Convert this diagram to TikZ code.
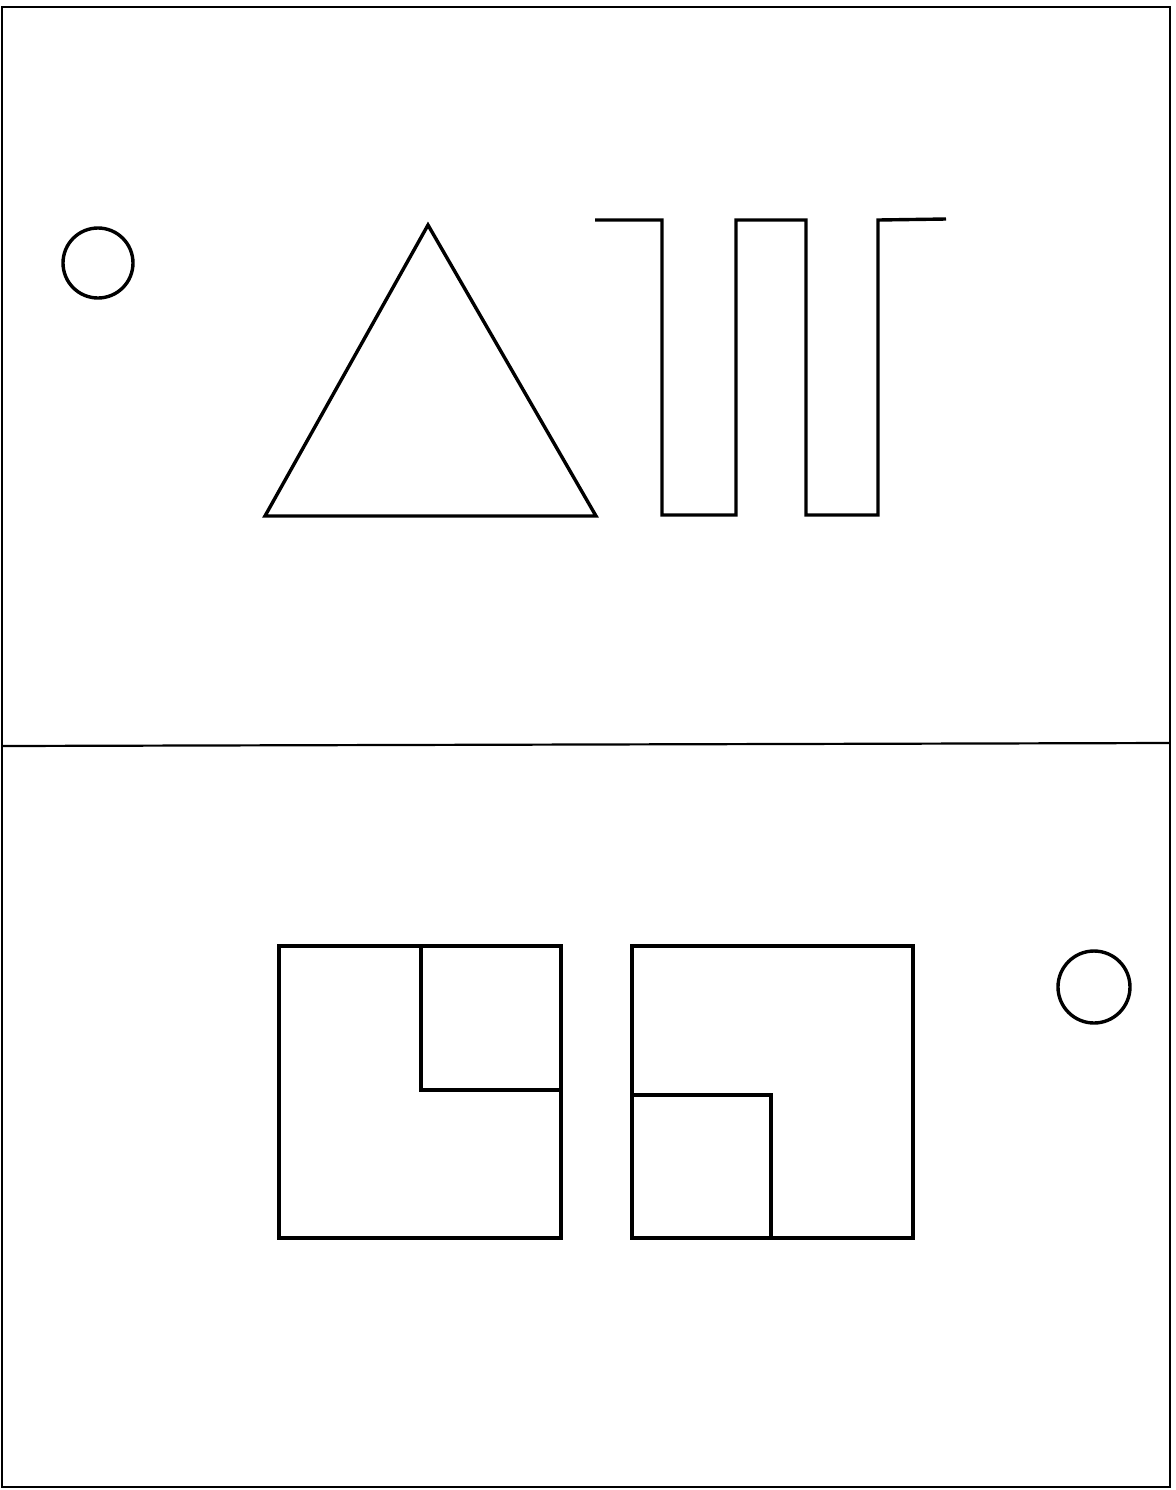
\documentclass[tikz,border=0pt]{standalone}
\begin{document}
\begin{tikzpicture}[x=0.5pt,y=-0.5pt,line join=miter]
\tikzset{stroke/.style={draw=black,line width=1.7pt},framestroke/.style={draw=black,line width=1.1pt}}
\useasboundingbox (0,0) rectangle (1176,1490);
\fill[white] (0,0) rectangle (1176,1490);
% frame and divider
\draw[framestroke] (2,7) rectangle (1170,1487);
\draw[framestroke] (2,746) -- (1170,743);
% circles
\draw[stroke] (98,263) circle (35);
\draw[stroke] (1094,987) circle (36);
% triangle
\draw[stroke] (428,225) -- (596,516) -- (265,516) -- cycle;
% square wave
\draw[stroke] (595,220) -- (662,220) -- (662,515) -- (736,515) -- (736,220) -- (806,220) -- (806,515) -- (878,515) -- (878,220) -- (946,219);
% left square
\draw[stroke] (279,946) rectangle (561,1238);
\draw[stroke] (421,946) -- (421,1090) -- (561,1090);
% right square
\draw[stroke] (632,946) rectangle (913,1238);
\draw[stroke] (632,1095) -- (771,1095) -- (771,1238);
\end{tikzpicture}
\end{document}
